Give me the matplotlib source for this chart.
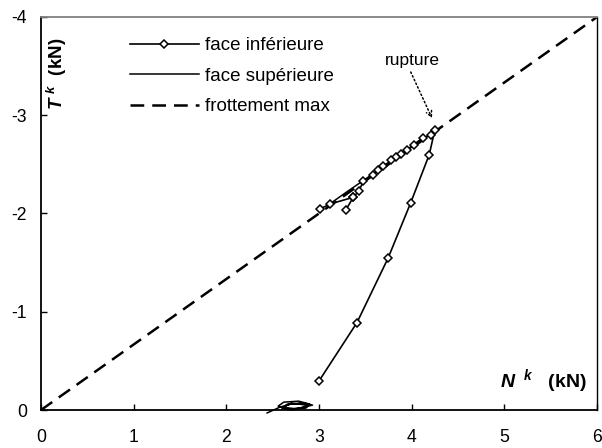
import numpy as np
import matplotlib
matplotlib.use("Agg")
import matplotlib.pyplot as plt

plt.rcParams['font.family'] = ['Liberation Sans', 'DejaVu Sans']
plt.rcParams['mathtext.fontset'] = 'custom'
plt.rcParams['mathtext.it'] = 'Liberation Sans:italic:bold'
plt.rcParams['mathtext.rm'] = 'Liberation Sans:bold'
plt.rcParams['mathtext.bf'] = 'Liberation Sans:bold'

nan = np.nan
# face inférieure (with diamond markers)
inf_N = [3.00, 3.41, 3.745, 3.99, 4.19, 4.25, 4.21, 4.12, 4.02, 3.95, 3.89, 3.83, 3.78,
         3.69, 3.64, 3.58, 3.48, 3.43, 3.37, 3.29, nan, 3.01, 3.12, 3.37]
inf_T = [-0.295, -0.89, -1.545, -2.11, -2.60, -2.85, -2.80, -2.77, -2.70, -2.65, -2.61, -2.57, -2.54,
         -2.48, -2.44, -2.39, -2.33, -2.23, -2.165, -2.036, nan, -2.046, -2.097, -2.165]
# face supérieure (plain line)
sup_N = [3.12, 3.30, 3.50, 3.70, 3.90, 4.10, 4.22, nan,
         2.44, 2.58, 2.70, 2.84, 2.93, 2.80, 2.64, 2.56, 2.62, 2.78, 2.90, 2.86, 2.70,
         2.60, 2.66, 2.82, 2.88, 2.74, 2.62, 2.70, 2.86]
sup_T = [-2.10, -2.22, -2.35, -2.48, -2.61, -2.74, -2.82, nan,
         0.03, -0.03, -0.06, -0.07, -0.05, -0.02, -0.01, -0.04, -0.08, -0.09, -0.06, -0.02, 0.0,
         -0.02, -0.06, -0.07, -0.04, -0.01, -0.03, -0.07, -0.05]
# frottement max
frot_N = [0, 6]
frot_T = [0, -4]

x_ticks = [0, 1, 2, 3, 4, 5, 6]
y_ticks = [0, -1, -2, -3, -4]

fig = plt.figure(figsize=(6.02, 4.48), dpi=100)
ax = fig.add_axes([41/602, 38/448, 556/602, 393/448])

ax.plot(inf_N, inf_T, color='black', lw=1.2, marker='D', markersize=4.5,
        markerfacecolor='white', markeredgecolor='black', markeredgewidth=1.1,
        label='face inférieure', zorder=4)
ax.plot(sup_N, sup_T, color='black', lw=1.1, label='face supérieure', clip_on=False, zorder=3)
ax.plot(frot_N, frot_T, color='black', lw=1.8, dashes=(5.5, 3.2), label='frottement max', zorder=2)

ax.set_xlim(0, 6)
ax.set_ylim(0, -4)
ax.set_xticks(x_ticks)
ax.set_yticks(y_ticks)
ax.set_xticklabels([str(v) for v in x_ticks])
ax.set_yticklabels([str(v) for v in y_ticks])
ax.tick_params(direction='in', length=4, width=1, labelsize=12.7, colors='black')
ax.tick_params(axis='x', pad=13.5)
ax.tick_params(axis='y', pad=10)

for s in ['left', 'bottom']:
    ax.spines[s].set_linewidth(1.3)
ax.spines['right'].set_linewidth(1.0)
ax.spines['top'].set_color('#808080')
ax.spines['top'].set_linewidth(1.3)

ax.text(0.028, 0.855, r'$T^{\ k}$  (kN)', transform=ax.transAxes, rotation=90,
        ha='center', va='center', fontsize=13.5, fontweight='bold')
ax.text(0.903, 0.074, r'$N^{\ \ k}$   (kN)', transform=ax.transAxes,
        ha='center', va='center', fontsize=14, fontweight='bold')

ax.text(4.01, -3.56, 'rupture', ha='center', va='center', fontsize=12.5)
ax.annotate('', xy=(4.22, -2.97), xytext=(3.99, -3.44),
            arrowprops=dict(arrowstyle='->', linestyle=':', lw=1.1, color='black',
                            shrinkA=0, shrinkB=0))

leg = ax.legend(loc='upper left', bbox_to_anchor=(0.146, 0.968), frameon=False,
                fontsize=13.5, handlelength=3.7, handletextpad=0.3, labelspacing=0.72,
                borderaxespad=0)

fig.savefig('out.png', dpi=100)
